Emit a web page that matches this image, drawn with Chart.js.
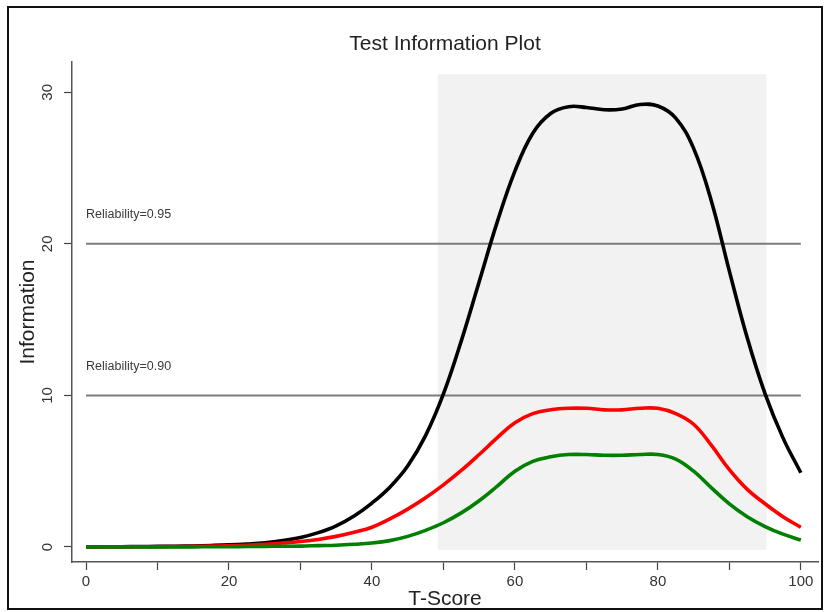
<!DOCTYPE html>
<html>
<head>
<meta charset="utf-8">
<title>Test Information Plot</title>
<script src="https://cdn.jsdelivr.net/npm/chart.js@4/dist/chart.umd.min.js"></script>
<style>
  html, body { margin: 0; padding: 0; background: #fff; }
  canvas { display: block; }
</style>
</head>
<body>
<canvas id="plot" width="828" height="612"></canvas>
<script>
// T-score grid the curves were read at
const tScores = [0, 2.5, 5, 7.5, 10, 12.5, 15, 17.5, 20, 22.5, 25, 27.5, 30, 32.5, 35, 37.5, 40, 42.5, 45, 47.5,
  50, 52.5, 55, 57.5, 60, 62.5, 65, 67.5, 70, 72.5, 75, 77.5, 80, 82.5, 85, 87.5, 90, 92.5, 95, 97.5, 100];

const totalInfo = [0.01, 0.01, 0.02, 0.03, 0.04, 0.05, 0.07, 0.1, 0.14, 0.2, 0.28, 0.42, 0.63, 0.95, 1.4, 2.05, 2.9, 3.95, 5.35, 7.35,
  10.1, 13.6, 17.5, 21.4, 24.8, 27.3, 28.6, 29.05, 29.0, 28.85, 28.9, 29.2, 29.1, 28.3, 26.3, 22.8, 18.2, 13.8, 10.1, 7.2, 4.9];

const redInfo = [0.0, 0.0, 0.01, 0.01, 0.02, 0.03, 0.04, 0.06, 0.08, 0.12, 0.18, 0.26, 0.36, 0.5, 0.7, 0.97, 1.3, 1.85, 2.5, 3.25,
  4.1, 5.05, 6.1, 7.2, 8.2, 8.8, 9.05, 9.15, 9.15, 9.05, 9.05, 9.15, 9.15, 8.8, 8.1, 6.7, 5.1, 3.8, 2.85, 2.0, 1.3];

const greenInfo = [0.0, 0.0, 0.0, 0.0, 0.01, 0.01, 0.01, 0.02, 0.02, 0.03, 0.04, 0.05, 0.06, 0.09, 0.12, 0.18, 0.26, 0.42, 0.7, 1.1,
  1.6, 2.25, 3.05, 4.0, 5.0, 5.65, 5.95, 6.1, 6.1, 6.05, 6.05, 6.1, 6.1, 5.8, 5.0, 3.9, 2.85, 2.0, 1.35, 0.85, 0.46];

const refValues = [20, 10];
const refLabels = ['Reliability=0.95', 'Reliability=0.90'];
const refSpan = [0, 100];

const shadeX = [49.2, 95.2];
const shadeY = [-0.2, 31.2];

const xTicks = [0, 10, 20, 30, 40, 50, 60, 70, 80, 90, 100];
const xTickLabels = ['0', '', '20', '', '40', '', '60', '', '80', '', '100'];
const yTicks = [0, 10, 20, 30];

const chartTitle = 'Test Information Plot';
const FONT = "'Liberation Sans', Arial, Helvetica, sans-serif";

function toPoints(ys) {
  return tScores.map((x, i) => ({ x: x, y: ys[i] }));
}

const curve = (data, color, order) => ({
  data: toPoints(data),
  borderColor: color,
  borderWidth: 3.6,
  pointRadius: 0,
  tension: 0.4,
  fill: false,
  order: order
});

const refSets = refValues.map(v => ({
  data: refSpan.map(x => ({ x: x, y: v })),
  borderColor: '#7c7c7c',
  borderWidth: 2,
  pointRadius: 0,
  fill: false,
  order: 10
}));

// grey band behind the curves, title over the plot area, labels and the outer frame
const decorations = {
  id: 'decorations',
  beforeDatasetsDraw(chart) {
    const { ctx, scales: { x, y } } = chart;
    const left = x.getPixelForValue(shadeX[0]);
    const right = x.getPixelForValue(shadeX[1]);
    const top = y.getPixelForValue(shadeY[1]);
    const bottom = y.getPixelForValue(shadeY[0]);
    ctx.save();
    ctx.fillStyle = '#f2f2f2';
    ctx.fillRect(left, top, right - left, bottom - top);
    ctx.restore();
  },
  afterDraw(chart) {
    const { ctx, chartArea, scales: { x, y } } = chart;
    ctx.save();
    ctx.fillStyle = '#222';
    ctx.font = '21px ' + FONT;
    ctx.textAlign = 'center';
    ctx.textBaseline = 'middle';
    ctx.fillText(chartTitle, (chartArea.left + chartArea.right) / 2, 44);

    ctx.fillStyle = '#3a3a3a';
    ctx.font = '12.5px ' + FONT;
    ctx.textAlign = 'left';
    refValues.forEach((v, i) => {
      ctx.fillText(refLabels[i], x.getPixelForValue(refSpan[0]), y.getPixelForValue(v) - 29);
    });
    // frame round the whole figure
    ctx.fillStyle = '#fff';
    ctx.fillRect(0, 609, 828, 3);
    ctx.strokeStyle = '#111';
    ctx.lineWidth = 2;
    ctx.strokeRect(8, 7, 814, 602);
    ctx.restore();
  }
};

new Chart(document.getElementById('plot').getContext('2d'), {
  type: 'line',
  data: {
    datasets: [
      curve(greenInfo, 'rgb(0,128,0)', 1),
      curve(redInfo, 'rgb(255,0,0)', 2),
      curve(totalInfo, '#000', 3),
      ...refSets
    ]
  },
  options: {
    responsive: false,
    animation: false,
    devicePixelRatio: 1,
    layout: { padding: { left: 0, right: 10, top: 62, bottom: 0 } },
    plugins: {
      legend: { display: false },
      tooltip: { enabled: false },
      title: { display: false }
    },
    scales: {
      x: {
        type: 'linear',
        min: -1.96,
        max: 102.4,
        afterBuildTicks: s => { s.ticks = xTicks.map(v => ({ value: v })); },
        afterFit: s => { s.height = 50; },
        grid: { drawOnChartArea: false, drawTicks: true, tickLength: 8, color: '#444', tickWidth: 1.2 },
        border: { display: true, color: '#555', width: 1.5 },
        ticks: {
          color: '#333',
          font: { family: FONT, size: 15 },
          padding: 3,
          maxRotation: 0,
          autoSkip: false,
          callback: (v, i) => xTickLabels[i]
        },
        title: {
          display: true,
          text: 'T-Score',
          color: '#222',
          font: { family: FONT, size: 21, lineHeight: 1.2 },
          padding: { top: 0, bottom: 0 }
        }
      },
      y: {
        type: 'linear',
        min: -0.99,
        max: 32.0,
        afterBuildTicks: s => { s.ticks = yTicks.map(v => ({ value: v })); },
        afterFit: s => { s.width = 72; },
        grid: { drawOnChartArea: false, drawTicks: true, tickLength: 8, color: '#444', tickWidth: 1.2 },
        border: { display: true, color: '#555', width: 1.5 },
        ticks: {
          color: '#333',
          font: { family: FONT, size: 15 },
          padding: 8,
          minRotation: 90,
          maxRotation: 90,
          crossAlign: 'center',
          autoSkip: false
        },
        title: {
          display: true,
          text: 'Information',
          color: '#222',
          font: { family: FONT, size: 21, lineHeight: 1.2 },
          padding: { top: 15.4, bottom: 0 }
        }
      }
    }
  },
  plugins: [decorations]
});
</script>
</body>
</html>
